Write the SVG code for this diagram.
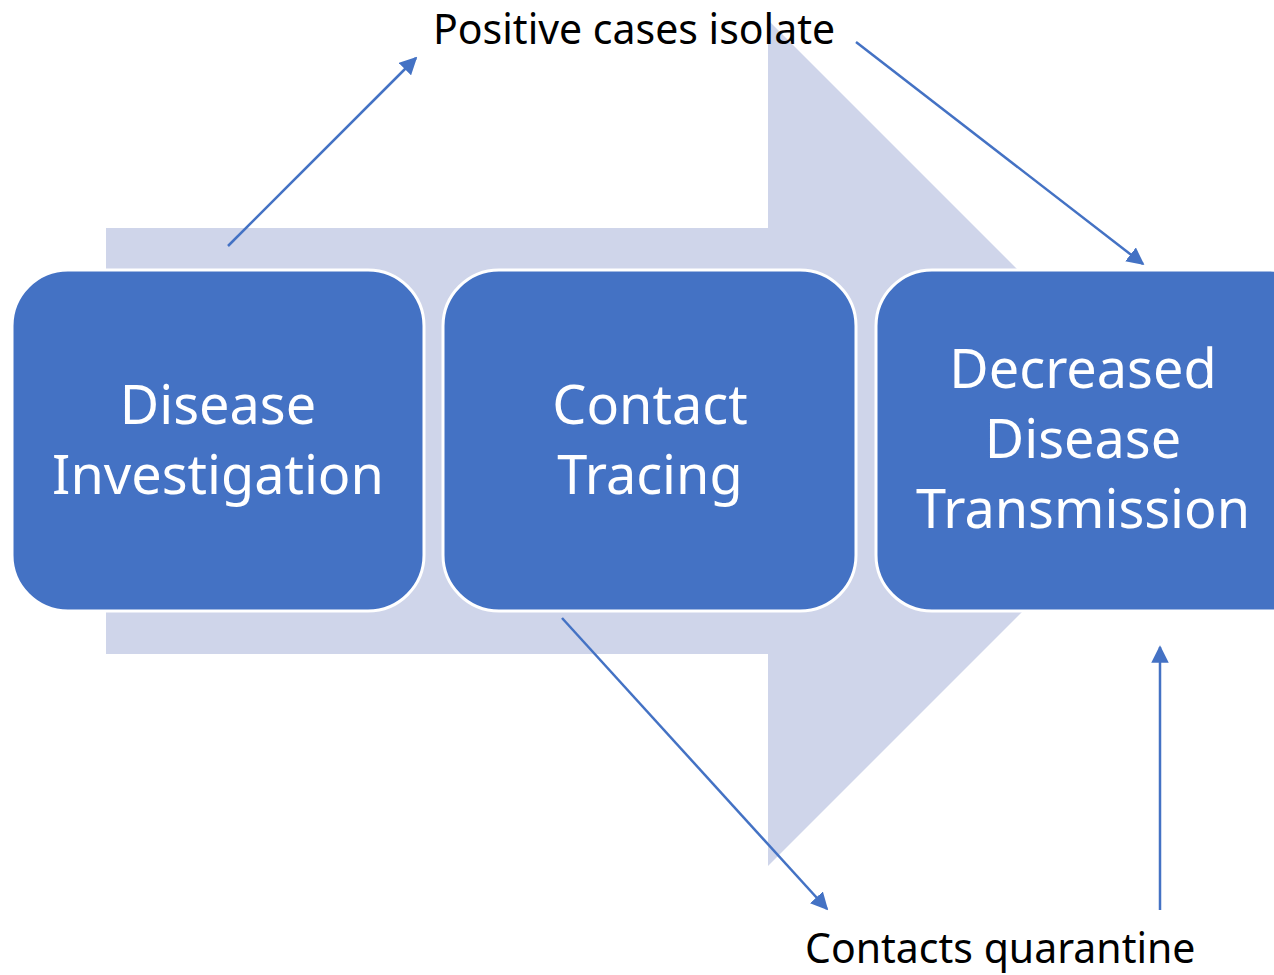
<svg xmlns="http://www.w3.org/2000/svg" width="1274" height="975" viewBox="0 0 1274 975">
<defs>
<style>
.box{fill:#4472C4;stroke:#FFFFFF;stroke-width:3}
.bt{font-family:"Noto Sans","Open Sans",sans-serif;font-size:54px;fill:#FFFFFF;text-anchor:middle}
.lbl{font-family:"Noto Sans","Open Sans",sans-serif;font-size:41px;fill:#000000}
.con{stroke:#4472C4;stroke-width:2.5;fill:none;marker-end:url(#ah)}
</style>
<marker id="ah" viewBox="0 0 10 10" refX="9" refY="5" markerWidth="7" markerHeight="7" orient="auto" markerUnits="strokeWidth">
<path d="M0,0 L10,5 L0,10 z" fill="#4472C4"/>
</marker>
</defs>
<rect width="1274" height="975" fill="#FFFFFF"/>
<g id="bigarrow">
<polygon points="106,228 768,228 768,20 1191,443 768,866 768,654 106,654" fill="#CFD5EA"/>
</g>
<g id="node1">
<rect class="box" x="12" y="270" width="412" height="341" rx="56"/>
<text class="bt" x="218" y="424">Disease</text>
<text class="bt" x="218" y="494">Investigation</text>
</g>
<g id="node2">
<rect class="box" x="443" y="270" width="413" height="341" rx="56"/>
<text class="bt" x="650" y="424">Contact</text>
<text class="bt" x="650" y="494">Tracing</text>
</g>
<g id="node3">
<rect class="box" x="876" y="270" width="450" height="341" rx="56"/>
<text class="bt" x="1083" y="388">Decreased</text>
<text class="bt" x="1083" y="458">Disease</text>
<text class="bt" x="1083" y="528">Transmission</text>
</g>
<g id="label-top">
<text class="lbl" x="433" y="44">Positive cases isolate</text>
</g>
<g id="label-bottom">
<text class="lbl" x="805" y="963">Contacts quarantine</text>
</g>
<g id="connectors">
<line class="con" x1="228" y1="246" x2="416" y2="58"/>
<line class="con" x1="856" y1="42" x2="1143" y2="264"/>
<line class="con" x1="562" y1="618" x2="827" y2="909"/>
<line class="con" x1="1160" y1="910" x2="1160" y2="647"/>
</g>
</svg>
